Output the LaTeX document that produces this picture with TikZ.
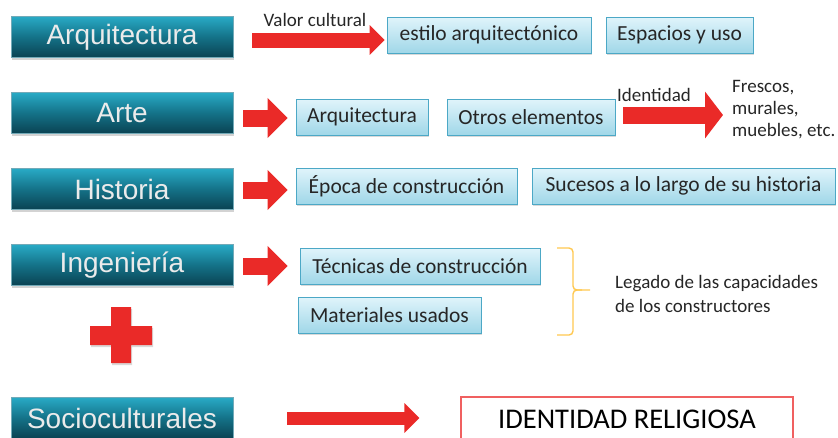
\documentclass[tikz,border=0pt]{standalone}
\usepackage{fontspec}
\setmainfont{Carlito}
\newfontfamily\arialfont{Liberation Sans}
\usetikzlibrary{arrows.meta,shadows}

\definecolor{tealtop}{RGB}{40,170,198}
\definecolor{tealmid}{RGB}{20,114,136}
\definecolor{tealbot}{RGB}{10,66,82}
\definecolor{bluetop}{RGB}{224,244,251}
\definecolor{bluebot}{RGB}{160,215,232}
\definecolor{blueline}{RGB}{76,168,198}
\definecolor{arrowred}{RGB}{234,42,40}
\definecolor{boxred}{RGB}{240,96,96}
\definecolor{bracegold}{RGB}{255,200,80}

\tikzset{
  topic/.style={rectangle, minimum width=222pt, minimum height=41pt,
    top color=tealtop, bottom color=tealbot, middle color=tealmid,
    draw=tealmid!60!white, line width=0.6pt, text=white!92!black,
    font=\arialfont\fontsize{28}{32}\selectfont,
    drop shadow={shadow xshift=1pt, shadow yshift=-2pt, opacity=0.35}},
  item/.style={rectangle, minimum height=36pt, inner xsep=6pt,
    top color=bluetop, bottom color=bluebot, draw=blueline, line width=0.8pt,
    text=black!85, font=\fontsize{21.5}{24}\selectfont,
    drop shadow={shadow xshift=1pt, shadow yshift=-2pt, opacity=0.3}},
  note/.style={inner sep=0pt, text=black!85, font=\fontsize{19}{22}\selectfont},
  resultbox/.style={rectangle, draw=boxred, line width=1.3pt, fill=white, text=black,
    minimum width=332pt, minimum height=44pt, font=\fontsize{28.5}{32}\selectfont},
  fatarrow/.style={draw=arrowred, line width=17pt, -{Triangle[length=20pt,width=39pt]}},
  thinarrow/.style={draw=arrowred, line width=15pt, -{Triangle[length=15pt,width=29pt]}}
}

\begin{document}
\begin{tikzpicture}[x=1pt,y=-1pt]
\useasboundingbox (0,0) rectangle (838,437);

\node[topic] (arq) at (122,37) {Arquitectura};
\node[topic] (arte) at (122,113) {Arte};
\node[topic] (hist) at (122,189) {Historia};
\node[topic] (inge) at (122,265) {Ingeniería};
\node[topic] (socio) at (122,418) {Socioculturales};

\node[item, minimum width=204pt] (estilo) at (489,35) {estilo arquitectónico};
\node[item, minimum width=147pt] (espacios) at (679.5,35) {Espacios y uso};
\node[item, minimum width=132pt] (arqb) at (362,117) {Arquitectura};
\node[item, minimum width=168pt] (otros) at (531,117) {Otros elementos};
\node[item, minimum width=221pt] (epoca) at (406.5,186) {Época de construcción};
\node[item, minimum width=303pt] (sucesos) at (683.5,186) {Sucesos a lo largo de su historia};
\node[item, minimum width=240pt] (tecnicas) at (420,266) {Técnicas de construcción};
\node[item, minimum width=183pt] (materiales) at (389.5,315) {Materiales usados};
\node[resultbox] (identidad) at (627,419) {IDENTIDAD RELIGIOSA};

\node[note] (valor) at (315,20) {Valor cultural};
\node[note] (ident) at (654,95) {Identidad};
\node[note, anchor=west, align=left] (frescos) at (732,110) {Frescos,\\murales,\\muebles, etc.};
\node[note, anchor=west, align=left, font=\fontsize{19}{24}\selectfont] (legado) at (615,294)
  {Legado de las capacidades\\de los constructores};

\draw[thinarrow] ([shift={(19,3)}]arq.east) -- ([shift={(-2,5)}]estilo.west);
\draw[fatarrow] ([shift={(10,5)}]arte.east) -- ([shift={(-8,1)}]arqb.west);
\draw[fatarrow, -{Triangle[length=18pt,width=46pt]}] ([shift={(8,-2)}]otros.east) -- ([shift={(-9,5)}]frescos.west);
\draw[fatarrow] ([shift={(10,1)}]hist.east) -- ([shift={(-8,4)}]epoca.west);
\draw[fatarrow] ([shift={(10,1)}]inge.east) -- ([shift={(-12,0)}]tecnicas.west);
\draw[thinarrow, line width=13pt] ([shift={(54,0)}]socio.east) -- ([shift={(-41,-1)}]identidad.west);

\fill[arrowred, drop shadow={shadow xshift=1pt, shadow yshift=-2pt, opacity=0.3}]
  (111,307) -- (131,307) -- (131,326) -- (152,326) -- (152,345) -- (131,345) -- (131,363)
  -- (111,363) -- (111,345) -- (90,345) -- (90,326) -- (111,326) -- cycle;

\draw[bracegold, line width=1.4pt, rounded corners=4pt] (557,248) -| (573,290) -- (590,290);
\draw[bracegold, line width=1.4pt, rounded corners=4pt] (582,290) -| (573,335) -- (557,335);
\end{tikzpicture}
\end{document}
